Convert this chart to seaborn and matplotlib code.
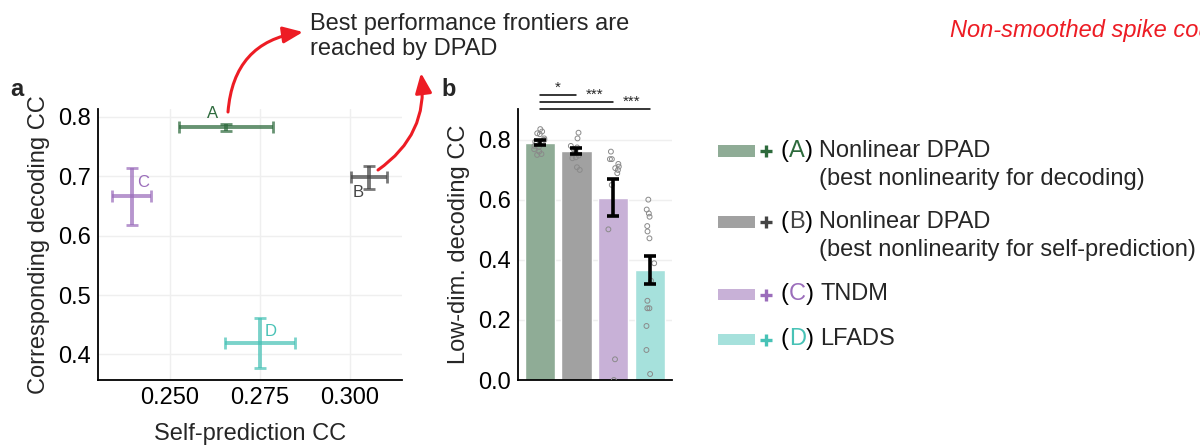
import numpy as np
import pandas as pd
import matplotlib
matplotlib.use("Agg")
import matplotlib.pyplot as plt
import seaborn as sns
from matplotlib.patches import FancyArrowPatch, Rectangle
from matplotlib.lines import Line2D

# ---------------------------------------------------------------------------
# data
# ---------------------------------------------------------------------------
methods = ['A', 'B', 'C', 'D']
legend_names = ['Nonlinear DPAD', 'Nonlinear DPAD', 'TNDM', 'LFADS']
legend_notes = ['(best nonlinearity for decoding)',
                '(best nonlinearity for self-prediction)', '', '']

# panel a: self-prediction vs decoding (mean +/- sem)
self_pred = [0.2656, 0.3054, 0.2394, 0.2750]
self_pred_err = [0.0131, 0.0050, 0.0054, 0.0098]
dec_cc = [0.782, 0.698, 0.666, 0.4185]
dec_cc_err = [0.0065, 0.0188, 0.0485, 0.042]

# panel b: low-dim decoding CC (mean +/- sem) and per-session values
low_dim_cc = [0.791, 0.763, 0.607, 0.367]
low_dim_sem = [0.008, 0.010, 0.062, 0.047]
points_A = [0.836, 0.828, 0.822, 0.819, 0.805, 0.800, 0.794, 0.787, 0.780, 0.777, 0.769, 0.761, 0.753, 0.750]
points_B = [0.824, 0.805, 0.780, 0.775, 0.769, 0.763, 0.755, 0.748, 0.742, 0.739, 0.709, 0.700]
points_C = [0.761, 0.736, 0.736, 0.720, 0.711, 0.706, 0.700, 0.689, 0.650, 0.502, 0.069, 0.0]
points_D = [0.601, 0.568, 0.555, 0.544, 0.513, 0.495, 0.472, 0.389, 0.331, 0.264, 0.239, 0.239, 0.180, 0.100, 0.020]
sig_pairs = [(0, 1, '*'), (0, 2, '***'), (0, 3, '***')]

pt_colors = ['#2d6a3c', '#444444', '#9b6dbb', '#48c2b6']
bar_colors = ['#8fac96', '#a1a1a1', '#c8b1d7', '#a6e1dc']
red = '#ed1c24'

# ---------------------------------------------------------------------------
sns.set_style("white")
plt.rcParams['font.family'] = ['Liberation Sans', 'DejaVu Sans']
plt.rcParams['font.size'] = 17

W, H = 1200, 448
fig = plt.figure(figsize=(W / 100, H / 100), dpi=100)


def fx(x):
    return x / W


def fy(y):
    return 1 - y / H


def style_axes(ax):
    for s in ['top', 'right']:
        ax.spines[s].set_visible(False)
    for s in ['left', 'bottom']:
        ax.spines[s].set_color('black')
        ax.spines[s].set_linewidth(1.3)
    ax.tick_params(direction='in', length=4, width=1, colors='black',
                   labelsize=17, pad=5)


# ---------------------------------------------------------------------------
# panel a
# ---------------------------------------------------------------------------
ax_a = fig.add_axes([fx(98), fy(380), fx(304), 271 / H])
style_axes(ax_a)
ax_a.set_axisbelow(True)
ax_a.grid(True, color='#efefef', linewidth=1)

label_offsets = [(-14, 14), (-11, -15), (11, 14), (11, 12)]
for i, m in enumerate(methods):
    ax_a.errorbar(self_pred[i], dec_cc[i], xerr=self_pred_err[i], yerr=dec_cc_err[i],
                  fmt='none', ecolor=pt_colors[i], elinewidth=2.8, capsize=4,
                  capthick=2, alpha=0.72, zorder=3)
    ax_a.annotate(m, (self_pred[i], dec_cc[i]), xytext=label_offsets[i],
                  textcoords='offset pixels', ha='center', va='center',
                  color=pt_colors[i], fontsize=12)

ax_a.set_xlim(0.230, 0.3145)
ax_a.set_ylim(0.357, 0.813)
ax_a.set_xticks([0.25, 0.275, 0.30])
ax_a.set_xticklabels(['0.250', '0.275', '0.300'])
ax_a.set_yticks([0.4, 0.5, 0.6, 0.7, 0.8])
ax_a.set_yticklabels(['0.4', '0.5', '0.6', '0.7', '0.8'])
ax_a.set_xlabel('Self-prediction CC', fontsize=17, labelpad=10)
ax_a.set_ylabel('Corresponding decoding CC', fontsize=17, labelpad=6)

# ---------------------------------------------------------------------------
# panel b
# ---------------------------------------------------------------------------
ax_b = fig.add_axes([fx(518), fy(380), fx(154), 271 / H])
style_axes(ax_b)
ax_b.set_axisbelow(True)
ax_b.yaxis.grid(True, color='#efefef', linewidth=1)

sns.barplot(x=methods, y=low_dim_cc, hue=methods, palette=bar_colors,
            saturation=1, width=0.82, legend=False, ax=ax_b, zorder=2)

pts = pd.DataFrame({
    'method': ['A'] * len(points_A) + ['B'] * len(points_B)
              + ['C'] * len(points_C) + ['D'] * len(points_D),
    'cc': points_A + points_B + points_C + points_D,
})
np.random.seed(3)
sns.stripplot(data=pts, x='method', y='cc', order=methods, jitter=0.16,
              color='none', edgecolor='#8a8a8a', linewidth=0.7, size=3.5,
              ax=ax_b, zorder=3)

ax_b.errorbar(range(len(methods)), low_dim_cc, yerr=low_dim_sem, fmt='none',
              ecolor='black', elinewidth=2.6, capsize=4.5, capthick=2.6, zorder=4)

ax_b.set_xlim(-0.59, 3.6)
ax_b.set_ylim(0, 0.903)
ax_b.set_xticks([])
ax_b.set_xlabel('')
ax_b.set_yticks([0, 0.2, 0.4, 0.6, 0.8])
ax_b.set_yticklabels(['0.0', '0.2', '0.4', '0.6', '0.8'])
ax_b.set_ylabel('Low-dim. decoding CC', fontsize=17, labelpad=6)

# significance bars above the axes
sig_y = [0.948, 0.925, 0.903]
for (i, j, s), yy in zip(sig_pairs, sig_y):
    ax_b.plot([i, j], [yy, yy], color='black', lw=1.1, clip_on=False)
    ax_b.text(j - 0.5, yy + 0.002, s, ha='center', va='bottom', fontsize=11,
              clip_on=False)

# ---------------------------------------------------------------------------
# panel letters, annotation, arrows, corner text
# ---------------------------------------------------------------------------
fig.text(fx(10), fy(96), 'a', fontsize=17, fontweight='bold', va='baseline')
fig.text(fx(441), fy(96), 'b', fontsize=17, fontweight='bold', va='baseline')

fig.text(fx(310), fy(30), 'Best performance frontiers are', fontsize=17,
         va='baseline', ha='left')
fig.text(fx(310), fy(55), 'reached by DPAD', fontsize=17,
         va='baseline', ha='left')
fig.text(fx(950), fy(37), 'Non-smoothed spike counts', fontsize=17,
         style='italic', color=red, va='baseline')

for start, end, rad in [((228, 112), (303, 32), -0.4),
                        ((378, 170), (421, 73), 0.3)]:
    arr = FancyArrowPatch((fx(start[0]), fy(start[1])), (fx(end[0]), fy(end[1])),
                          transform=fig.transFigure,
                          connectionstyle=f'arc3,rad={rad}',
                          arrowstyle='-|>,head_length=12,head_width=5',
                          color=red, lw=2.2, shrinkA=0, shrinkB=0)
    fig.add_artist(arr)

# ---------------------------------------------------------------------------
# legend (manual, because of the coloured letters)
# ---------------------------------------------------------------------------
renderer = fig.canvas.get_renderer()
row_baselines = [157, 228, 300, 345]
note_gap = 28
for i, m in enumerate(methods):
    yb = row_baselines[i]
    fig.add_artist(Rectangle((fx(718), fy(yb)), fx(37), 11.5 / H,
                             transform=fig.transFigure, color=bar_colors[i], lw=0))
    fig.add_artist(Line2D([fx(766)], [fy(yb - 5.5)], marker='+', markersize=9,
                          markeredgewidth=2.4, color=pt_colors[i],
                          transform=fig.transFigure))
    x = fx(781)
    for piece, col in [('(', 'black'), (m, pt_colors[i]), (')', 'black')]:
        t = fig.text(x, fy(yb), piece, color=col, fontsize=17, va='baseline')
        x = t.get_window_extent(renderer).x1 / W
    x += 6.5 / W
    fig.text(x, fy(yb), legend_names[i], fontsize=17, va='baseline')
    if legend_notes[i]:
        fig.text(x, fy(yb + note_gap), legend_notes[i], fontsize=17, va='baseline')

fig.savefig('out.png', dpi=100)
